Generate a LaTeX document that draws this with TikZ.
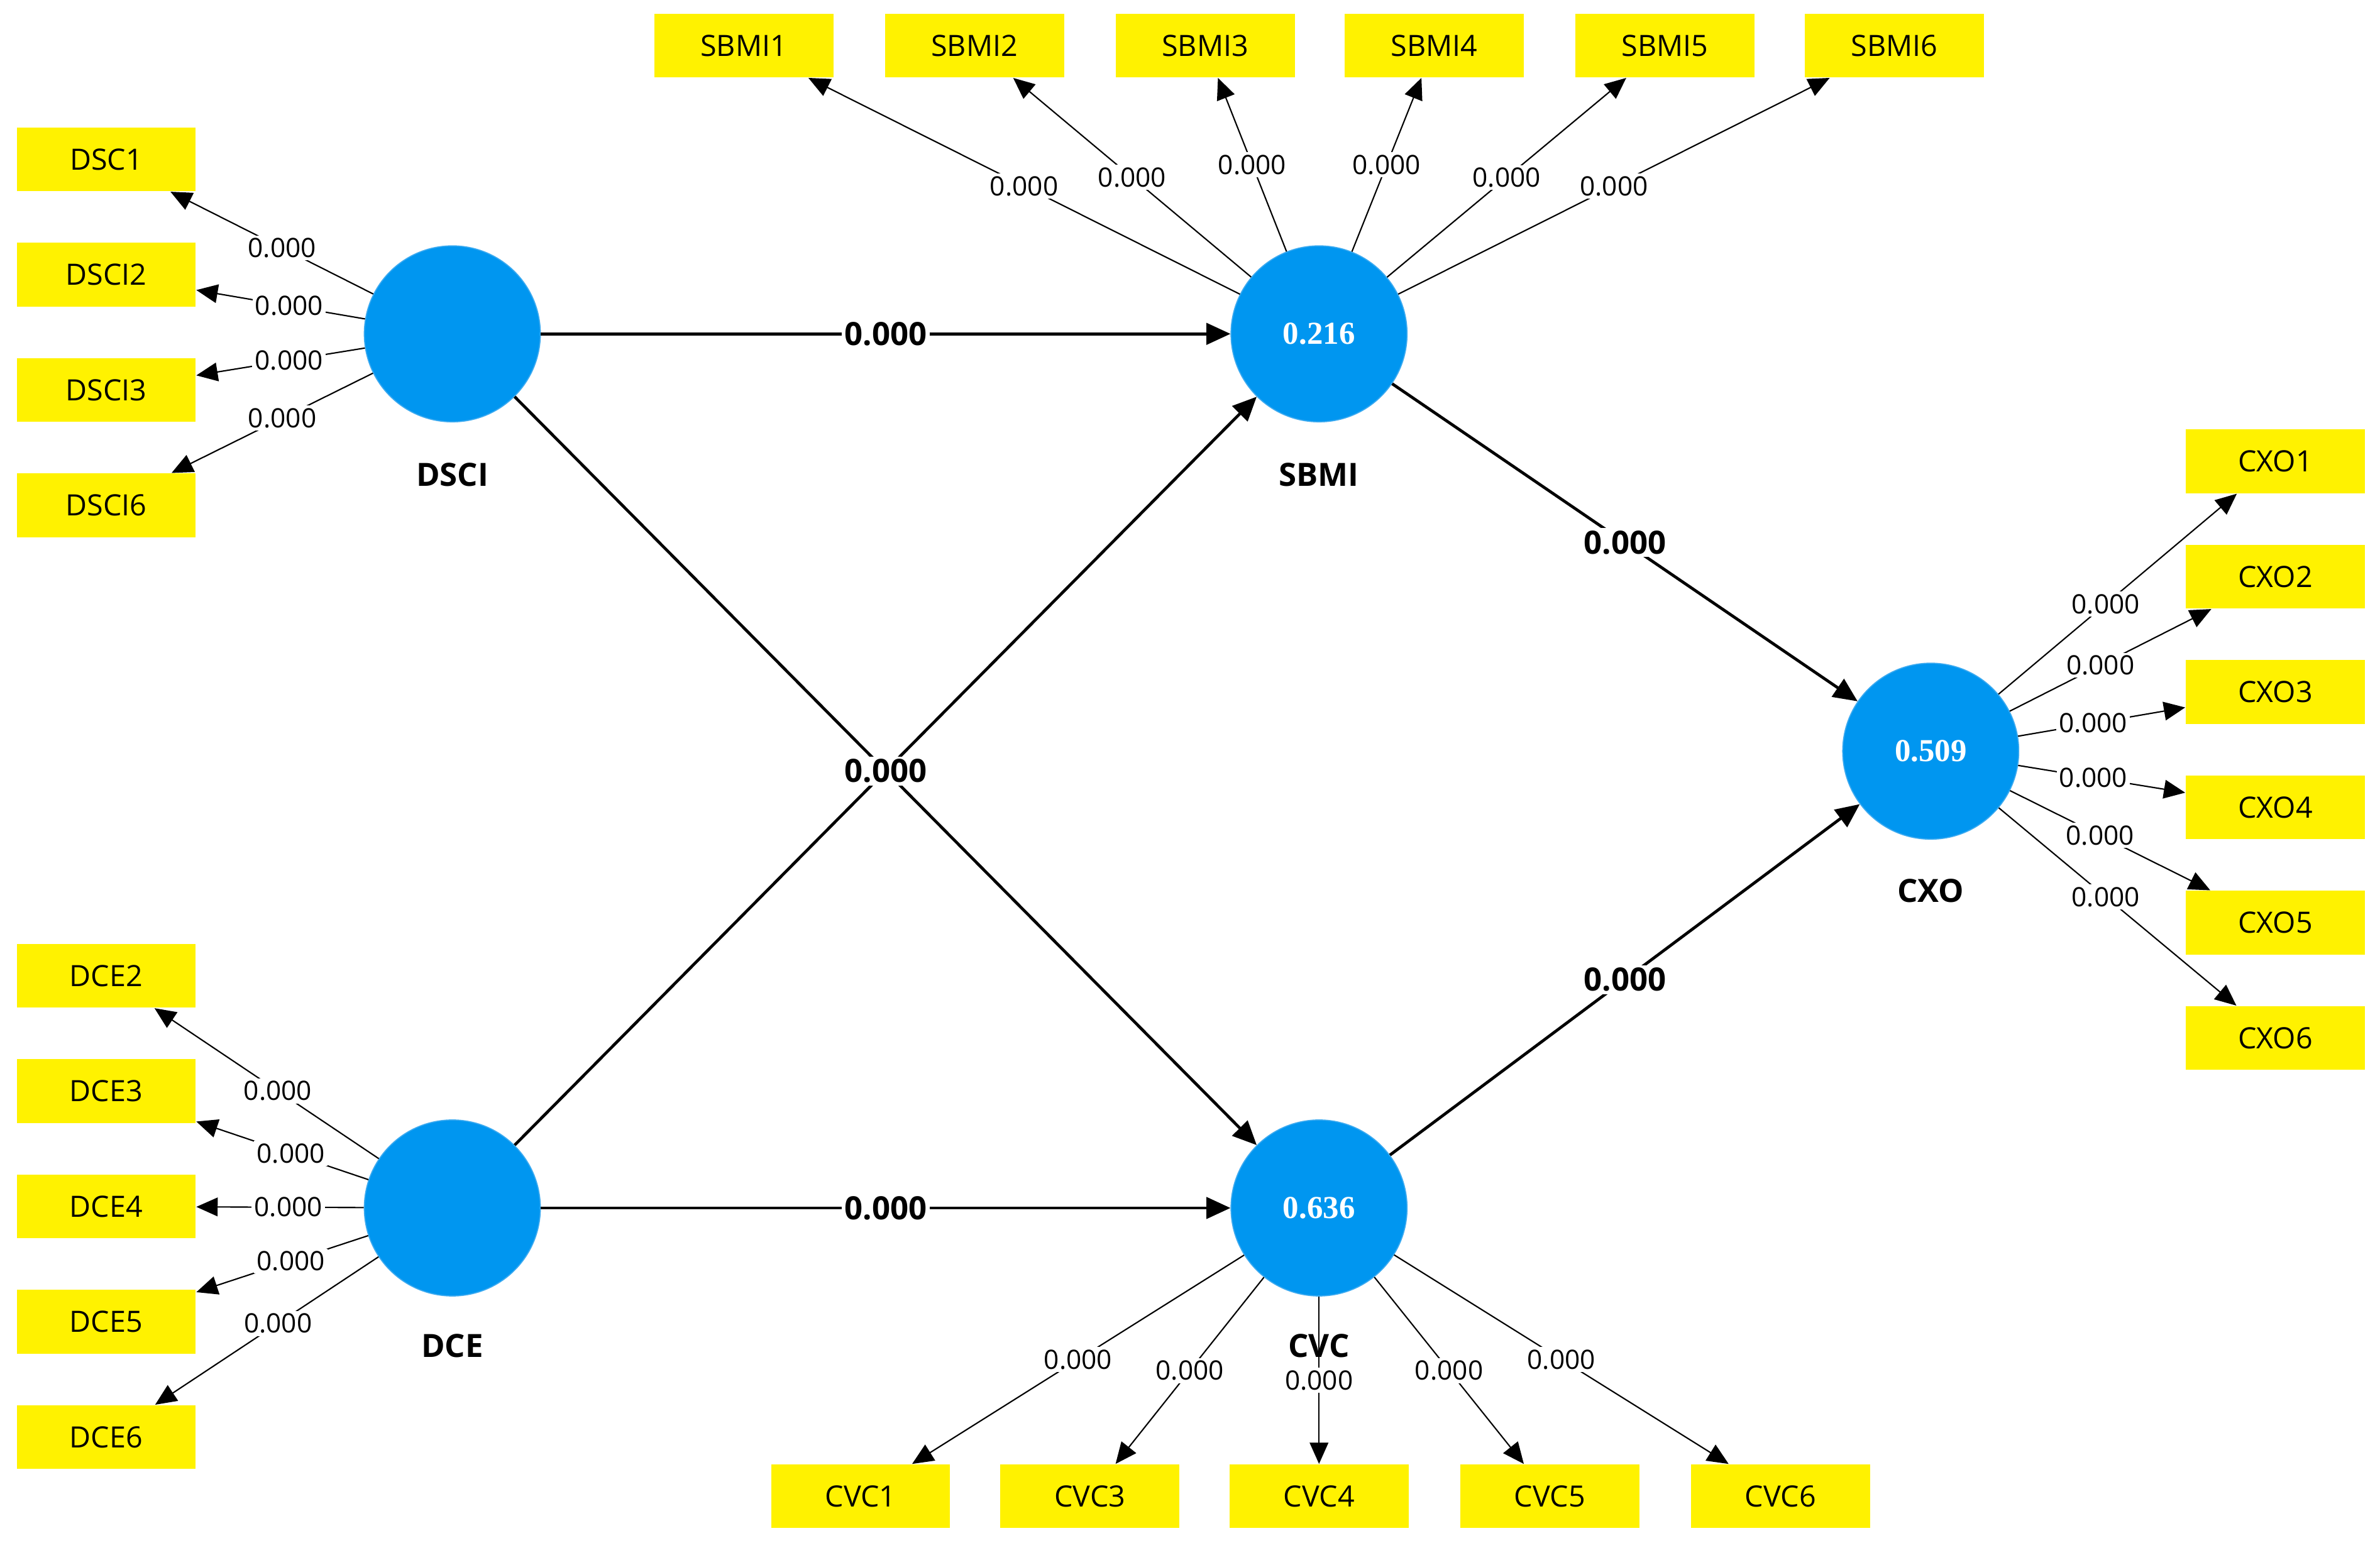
\documentclass[tikz,border=0pt]{standalone}
\usepackage{fontspec}
\setmainfont{Open Sans}
\newfontfamily\numfont{Liberation Serif}
\usetikzlibrary{arrows.meta}
\tikzset{
  lv/.style={circle, fill={rgb,255:red,0;green,150;blue,240}, draw={rgb,255:red,60;green,170;blue,240}, minimum size=2.32cm, inner sep=0pt, text=white, font=\numfont\fontsize{12}{12}\selectfont\bfseries},
  ind/.style={rectangle, fill=yellow, minimum width=2.36cm, minimum height=0.84cm, inner sep=0pt, font=\fontsize{11}{11}\selectfont},
  lvname/.style={font=\fontsize{12}{12}\selectfont\bfseries},
  path/.style={line width=1.1pt, -{Triangle[length=9pt,width=8pt]}},
  load/.style={line width=0.5pt, -{Triangle[length=8pt,width=7pt]}},
  pv/.style={fill=white, inner sep=1pt, font=\fontsize{12}{12}\selectfont\bfseries},
  lw/.style={fill=white, inner sep=1pt, font=\fontsize{10}{10}\selectfont}
}
\begin{document}
\begin{tikzpicture}[x=0.02cm, y=-0.02cm]
  \useasboundingbox (0,0) rectangle (1568,1020);
  % latent variables
  \node[lv] (dsci) at (298,220) {};
  \node[lv] (sbmi) at (869,220) {0.216};
  \node[lv] (dce) at (298,796) {};
  \node[lv] (cvc) at (869,796) {0.636};
  \node[lv] (cxo) at (1272,495) {0.509};
  \node[lvname] (ldsci) at (298,313) {DSCI};
  \node[lvname] (lsbmi) at (869,313) {SBMI};
  \node[lvname] (ldce) at (298,887) {DCE};
  \node[lvname] (lcvc) at (869,887) {CVC};
  \node[lvname] (lcxo) at (1272,587) {CXO};
  % indicators
  \foreach \n/\y in {DSC1/105, DSCI2/181, DSCI3/257, DSCI6/333}
    \node[ind] (\n) at (70,\y) {\n};
  \foreach \n/\y in {DCE2/643, DCE3/719, DCE4/795, DCE5/871, DCE6/947}
    \node[ind] (\n) at (70,\y) {\n};
  \foreach \n/\x in {SBMI1/490, SBMI2/642, SBMI3/794, SBMI4/945, SBMI5/1097, SBMI6/1248}
    \node[ind] (\n) at (\x,30) {\n};
  \foreach \n/\x in {CVC1/567, CVC3/718, CVC4/869, CVC5/1021, CVC6/1173}
    \node[ind] (\n) at (\x,986) {\n};
  \foreach \n/\y in {CXO1/304, CXO2/380, CXO3/456, CXO4/532, CXO5/608, CXO6/684}
    \node[ind] (\n) at (1499,\y) {\n};
  % loadings
  \foreach \n in {DSC1, DSCI2, DSCI3, DSCI6}
    \draw[load] (dsci) -- (\n) node[lw, pos=0.45] {0.000};
  \foreach \n in {DCE2, DCE3, DCE4, DCE5, DCE6}
    \draw[load] (dce) -- (\n) node[lw, pos=0.45] {0.000};
  \foreach \n in {SBMI1, SBMI2, SBMI3, SBMI4, SBMI5, SBMI6}
    \draw[load] (sbmi) -- (\n) node[lw, pos=0.5] {0.000};
  \foreach \n in {CVC1, CVC3, CVC4, CVC5, CVC6}
    \draw[load] (cvc) -- (\n) node[lw, pos=0.5] {0.000};
  \foreach \n in {CXO1, CXO2, CXO3, CXO4, CXO5, CXO6}
    \draw[load] (cxo) -- (\n) node[lw, pos=0.45] {0.000};
  % structural paths
  \draw[path] (dsci) -- (sbmi) node[pv, midway] {0.000};
  \draw[path] (dce) -- (cvc) node[pv, midway] {0.000};
  \draw[path] (dsci) -- (cvc);
  \draw[path] (dce) -- (sbmi) node[pv, midway] {0.000};
  \draw[path] (sbmi) -- (cxo) node[pv, midway] {0.000};
  \draw[path] (cvc) -- (cxo) node[pv, midway] {0.000};
\end{tikzpicture}
\end{document}
